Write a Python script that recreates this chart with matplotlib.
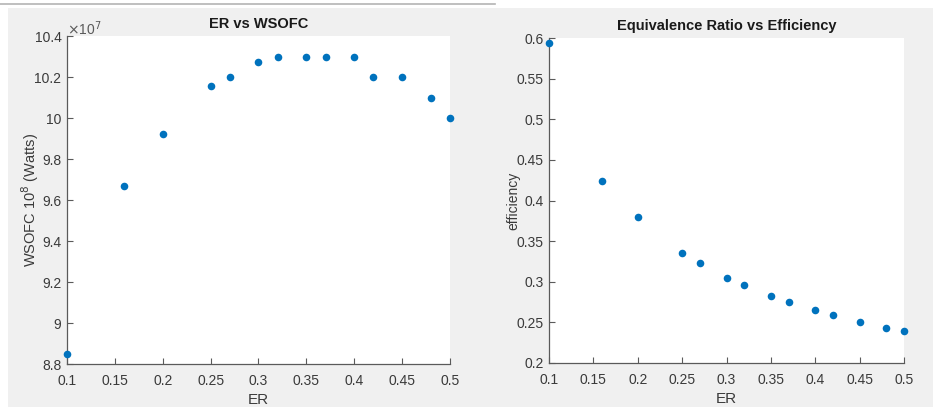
import matplotlib
matplotlib.use("Agg")
import matplotlib.pyplot as plt
from matplotlib.patches import Rectangle
from matplotlib.lines import Line2D

# Data
er = [0.10, 0.16, 0.20, 0.25, 0.27, 0.30, 0.32, 0.35, 0.37, 0.40, 0.42, 0.45, 0.48, 0.50]
wsofc_e7 = [8.85, 9.67, 9.92, 10.156, 10.20, 10.272, 10.30, 10.30, 10.30, 10.30, 10.20, 10.20, 10.10, 10.00]
efficiency = [0.594, 0.424, 0.380, 0.336, 0.3225, 0.305, 0.296, 0.283, 0.2755, 0.265, 0.259, 0.2505, 0.243, 0.239]

x_ticks = [0.1, 0.15, 0.2, 0.25, 0.3, 0.35, 0.4, 0.45, 0.5]
x_ticklabels = ["0.1", "0.15", "0.2", "0.25", "0.3", "0.35", "0.4", "0.45", "0.5"]
w_ticks = [8.8, 9.0, 9.2, 9.4, 9.6, 9.8, 10.0, 10.2, 10.4]
w_ticklabels = ["8.8", "9", "9.2", "9.4", "9.6", "9.8", "10", "10.2", "10.4"]
e_ticks = [0.2, 0.25, 0.3, 0.35, 0.4, 0.45, 0.5, 0.55, 0.6]
e_ticklabels = ["0.2", "0.25", "0.3", "0.35", "0.4", "0.45", "0.5", "0.55", "0.6"]

plt.rcParams['font.family'] = ['Liberation Sans', 'DejaVu Sans']

W, H = 933, 407
fig = plt.figure(figsize=(W / 100, H / 100), dpi=100)
fig.patch.set_facecolor('white')
fig.add_artist(Rectangle((8 / W, 0), 1 - 8 / W, (H - 8) / H, transform=fig.transFigure,
                         facecolor='#f0f0f0', edgecolor='none', zorder=-10))
fig.add_artist(Line2D([0, 495 / W], [(H - 4) / H, (H - 4) / H], transform=fig.transFigure,
                      color='#b4b4b4', lw=1.2))

axcol = '#3a3a3a'
mcol = '#0072BD'


def style(ax):
    ax.set_facecolor('white')
    for s in ['top', 'right']:
        ax.spines[s].set_visible(False)
    for s in ['left', 'bottom']:
        ax.spines[s].set_color('#5a5a5a')
        ax.spines[s].set_linewidth(0.9)
    ax.tick_params(direction='in', length=4, width=0.8, color='#5a5a5a',
                   labelcolor=axcol, labelsize=10)
    ax.tick_params(axis='x', pad=7)
    ax.tick_params(axis='y', pad=4)
    ax.set_xlim(0.1, 0.5)
    ax.set_xticks(x_ticks)
    ax.set_xticklabels(x_ticklabels)
    ax.set_xlabel('ER', fontsize=11, color=axcol, labelpad=4)


ax1 = fig.add_axes([67 / W, (H - 364) / H, 383 / W, 328 / H])
style(ax1)
ax1.scatter(er, wsofc_e7, s=30, color=mcol, clip_on=False, zorder=5, linewidths=0)
ax1.set_ylim(8.8, 10.4)
ax1.set_yticks(w_ticks)
ax1.set_yticklabels(w_ticklabels)
ax1.set_ylabel('WSOFC 10$^{8}$ (Watts)', fontsize=10.5, color=axcol)
ax1.yaxis.set_label_coords((41 - 67) / 383, 0.5)
ax1.set_title('ER vs WSOFC', fontsize=10.5, fontweight='bold', color='#1a1a1a', pad=6)
ax1.text(0.0, 0.995, r'$\times$10$^{7}$', transform=ax1.transAxes, fontsize=10,
         color='#5a5a5a', ha='left', va='bottom')

ax2 = fig.add_axes([549 / W, (H - 363) / H, 355 / W, 325 / H])
style(ax2)
ax2.scatter(er, efficiency, s=30, color=mcol, clip_on=False, zorder=5, linewidths=0)
ax2.set_ylim(0.2, 0.6)
ax2.set_yticks(e_ticks)
ax2.set_yticklabels(e_ticklabels)
ax2.set_ylabel('efficiency', fontsize=10, color=axcol)
ax2.yaxis.set_label_coords((520 - 549) / 355, 0.5)
ax2.set_title('Equivalence Ratio vs Efficiency', fontsize=10.5, fontweight='bold',
              color='#1a1a1a', pad=6)

fig.savefig('out.png', dpi=100, facecolor=fig.get_facecolor())
